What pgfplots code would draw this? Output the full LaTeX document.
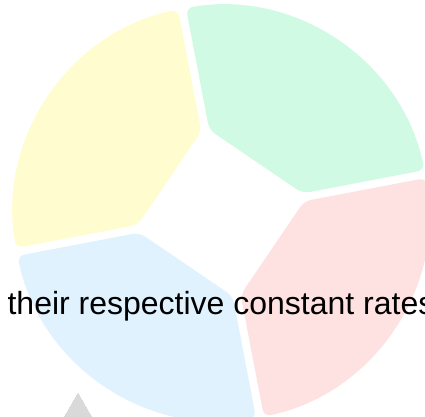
\documentclass[border=0pt]{standalone}
\usepackage{pgfplots}
\pgfplotsset{compat=1.18}
\usepackage{pgfplotstable}
\usepackage{fontspec}
\setmainfont{Liberation Sans}
\definecolor{pieGreen}{RGB}{209,250,229}
\definecolor{pieYellow}{RGB}{255,253,208}
\definecolor{pieBlue}{RGB}{224,242,254}
\definecolor{pieRed}{RGB}{254,226,226}
\definecolor{triGray}{RGB}{217,217,217}

\pgfplotstableread{
color value
pieGreen 25
pieRed 25
pieBlue 25
pieYellow 25
}\piedata

\def\cx{221}\def\cy{204}\def\Ro{208}\def\Ri{84}\def\gap{4}

% #1 = start angle (higher), #2 = end angle (lower), #3 = colour
\newcommand\sector[3]{%
  \pgfmathsetmacro\ao{asin(\gap/\Ro)}%
  \pgfmathsetmacro\ai{asin(\gap/\Ri)}%
  \pgfmathsetmacro\sa{#2+\ao}%
  \pgfmathsetmacro\ea{#1-\ao}%
  \pgfmathsetmacro\pxa{\cx+\Ri*cos(#2+\ai)}%
  \pgfmathsetmacro\pya{\cy+\Ri*sin(#2+\ai)}%
  \pgfmathsetmacro\qxa{\cx+\Ro*cos(\sa)}%
  \pgfmathsetmacro\qya{\cy+\Ro*sin(\sa)}%
  \pgfmathsetmacro\pxb{\cx+\Ri*cos(#1-\ai)}%
  \pgfmathsetmacro\pyb{\cy+\Ri*sin(#1-\ai)}%
  \fill[#3, rounded corners=7bp] (axis cs:\pxa,\pya) -- (axis cs:\qxa,\qya)
     arc[start angle=\sa, end angle=\ea, radius=\Ro bp] -- (axis cs:\pxb,\pyb) -- cycle;
}

\begin{document}
\begin{tikzpicture}
\begin{axis}[
  scale only axis, width=425bp, height=417bp,
  xmin=0, xmax=425, ymin=0, ymax=417,
  hide axis, clip=true,
]
\addplot[triGray, only marks, mark=triangle*, mark size=20.07,
  mark options={fill=triGray, draw=triGray, line width=0pt}] coordinates {(78,4)};
\pgfplotsextra{%
  \gdef\pietotal{0}%
  \pgfplotstableforeachcolumnelement{value}\of\piedata\as\v{%
    \pgfmathsetmacro\tmp{\pietotal+\v}\xdef\pietotal{\tmp}}%
  \gdef\acc{100.8}%
  \pgfplotstableforeachcolumnelement{value}\of\piedata\as\v{%
    \pgfmathsetmacro\anext{\acc-360*\v/\pietotal}%
    \pgfplotstablegetelem{\pgfplotstablerow}{color}\of\piedata
    \edef\col{\pgfplotsretval}%
    \sector{\acc}{\anext}{\col}%
    \xdef\acc{\anext}%
  }%
}
\node[anchor=base, font=\fontsize{32bp}{38bp}\selectfont, inner sep=0pt]
  at (axis cs:221,102) {their respective constant rates};
\end{axis}
\pgfresetboundingbox
\path[use as bounding box] (current axis.south west) rectangle (current axis.north east);
\end{tikzpicture}
\end{document}
